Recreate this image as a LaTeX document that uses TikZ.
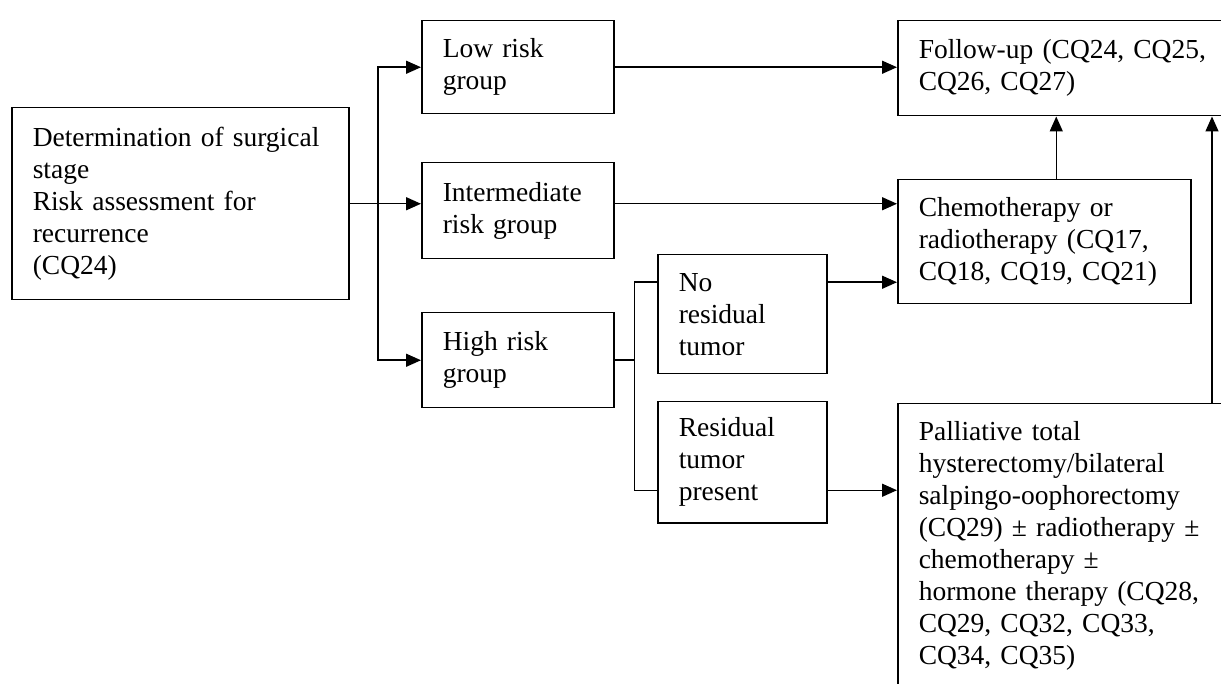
\documentclass[tikz,border=0pt]{standalone}
\usepackage{fontspec}
\setmainfont{Liberation Serif}
\usetikzlibrary{arrows.meta}
\newcommand{\boxfont}{\fontsize{27.5pt}{32pt}\selectfont}
\begin{document}
\begin{tikzpicture}[x=1pt, y=-1pt, line width=1.5pt,
    box/.style={draw, anchor=north west, align=left, font=\boxfont, inner xsep=21pt},
    arr/.style={-{Triangle[length=15pt, width=13pt]}}]
    \clip (0, 0) rectangle (1221, 684);
    \node [box, text width=295pt, minimum height=192pt] (main) at (11, 107)
        {Determination of surgical\\stage\\Risk assessment for\\recurrence\\(CQ24)};
    \node [box, text width=150pt, minimum height=93pt] (low) at (421, 20) {Low risk\\group};
    \node [box, text width=150pt, minimum height=96pt] (inter) at (421, 162) {Intermediate\\risk group};
    \node [box, text width=150pt, minimum height=95pt] (high) at (421, 312) {High risk\\group};
    \node [box, text width=127pt, minimum height=119pt] (nores) at (657, 254) {No\\residual\\tumor};
    \node [box, text width=127pt, minimum height=121pt] (res) at (657, 401) {Residual\\tumor\\present};
    \node [box, text width=320pt, minimum height=95pt] (follow) at (897, 20) {Follow-up (CQ24, CQ25,\\CQ26, CQ27)};
    \node [box, text width=251pt, minimum height=124pt] (chemo) at (897, 179)
        {Chemotherapy or\\radiotherapy (CQ17,\\CQ18, CQ19, CQ21)};
    \node [box, text width=330pt, inner ysep=18pt, text depth=260pt] (pall) at (897, 403)
        {Palliative total\\hysterectomy/bilateral\\salpingo-oophorectomy\\(CQ29) ± radiotherapy ±\\chemotherapy ±\\hormone therapy (CQ28,\\CQ29, CQ32, CQ33,\\CQ34, CQ35)};
    \coordinate (split) at (378, 203);
    \draw [arr] (main.east) -- (main.east -| inter.west);
    \draw [arr] (split) |- (low.west);
    \draw [arr] (split) |- (high.west);
    \draw [arr] (low.east) -- (low.east -| follow.west);
    \draw [arr] ([yshift=7pt]inter.east) -- ([yshift=7pt]inter.east -| chemo.west);
    \draw (high.east) -- ++(20, 0) coordinate (hsplit);
    \draw (hsplit) |- ([yshift=32pt]nores.west);
    \draw (hsplit) |- ([yshift=-28pt]res.west);
    \draw [arr] ([yshift=32pt]nores.east) -- ([yshift=32pt]nores.east -| chemo.west);
    \draw [arr] ([yshift=-28pt]res.east) -- ([yshift=-28pt]res.east -| pall.west);
    \draw [arr] ([xshift=12pt]chemo.north) -- ([xshift=12pt]chemo.north |- follow.south);
    \draw [arr] ([xshift=315pt]pall.north west) -- ([xshift=315pt]pall.north west |- follow.south);
\end{tikzpicture}
\end{document}
